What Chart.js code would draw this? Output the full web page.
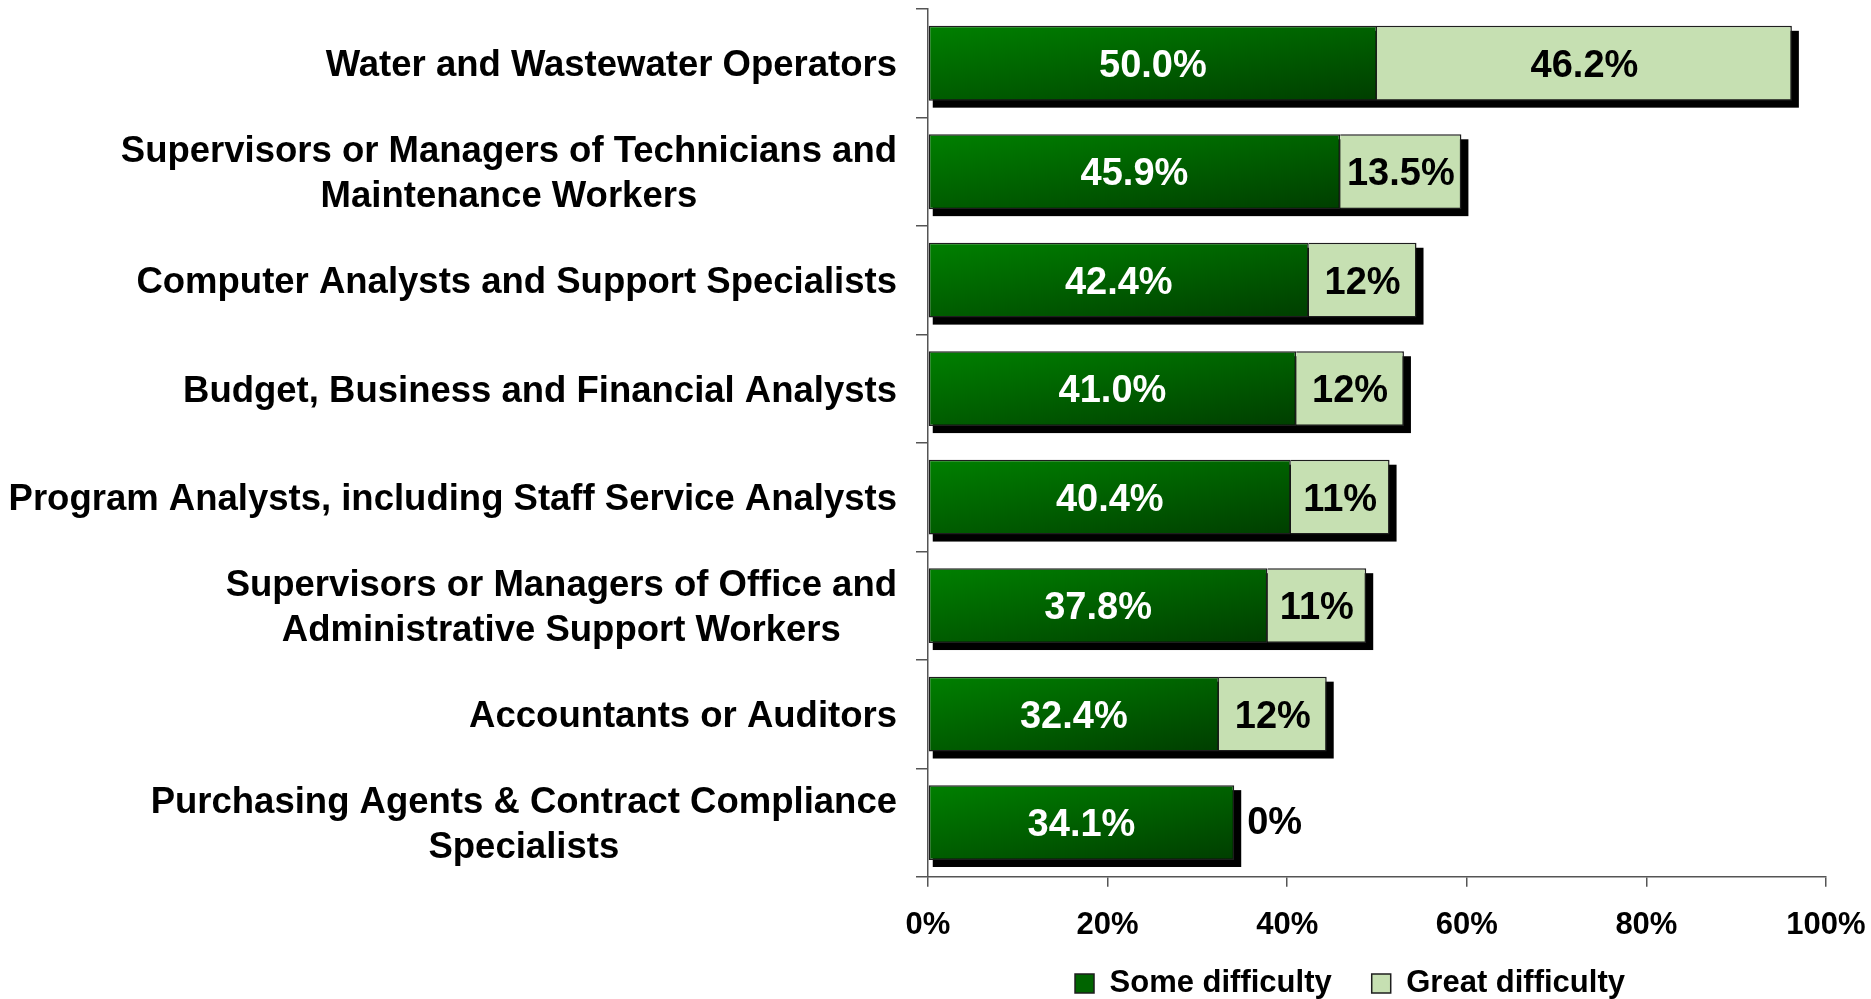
<!DOCTYPE html>
<html>
<head>
<meta charset="utf-8">
<script src="https://cdn.jsdelivr.net/npm/chart.js@4/dist/chart.umd.min.js"></script>
<style>
  html, body { margin: 0; padding: 0; background: #fff; }
  #wrap { width: 1871px; height: 999px; }
</style>
</head>
<body>
<div id="wrap"><canvas id="myChart"></canvas></div>
<script>
// data block
const categories = [
    ['Water and Wastewater Operators'],
    ['Supervisors or Managers of Technicians and', 'Maintenance Workers'],
    ['Computer Analysts and Support Specialists'],
    ['Budget, Business and Financial Analysts'],
    ['Program Analysts, including Staff Service Analysts'],
    ['Supervisors or Managers of Office and', 'Administrative Support Workers'],
    ['Accountants or Auditors'],
    ['Purchasing Agents & Contract Compliance', 'Specialists']
];
const someDifficulty = [50.0, 45.9, 42.4, 41.0, 40.4, 37.8, 32.4, 34.1];
const greatDifficulty = [46.2, 13.5, 12, 12, 11, 11, 12, 0];
const someLabels = ['50.0%', '45.9%', '42.4%', '41.0%', '40.4%', '37.8%', '32.4%', '34.1%'];
const greatLabels = ['46.2%', '13.5%', '12%', '12%', '11%', '11%', '12%', '0%'];
const xTicks = [0, 20, 40, 60, 80, 100];

const FONT = '"Liberation Sans", Arial, sans-serif';
const BAR_PCT = 0.69;

Chart.defaults.font.family = FONT;
Chart.defaults.color = '#000';

// dark green bars: gradient from bright top-left to dark bottom-right,
// about half across the length and half down the height
function greenGradient(c) {
    const chart = c.chart;
    const {x, y} = chart.scales;
    if (c.type !== 'data' || !x || !y || !chart.chartArea) return '#006400';
    const x0 = x.getPixelForValue(0);
    const L = Math.max(x.getPixelForValue(c.raw) - x0, 1);
    const h = (y.height / categories.length) * BAR_PCT;
    const top = y.getPixelForValue(c.dataIndex) - h / 2;
    const S = 1 / (0.2025 / (L * L) + 0.3025 / (h * h));
    const g = chart.ctx.createLinearGradient(x0, top, x0 + 0.45 * S / L, top + 0.55 * S / h);
    g.addColorStop(0, '#008000');
    g.addColorStop(1, '#003e00');
    return g;
}

// shadow behind each stacked bar
const barShadow = {
    id: 'barShadow',
    beforeDatasetsDraw(chart) {
        const ctx = chart.ctx;
        const m0 = chart.getDatasetMeta(0);
        const m1 = chart.getDatasetMeta(1);
        ctx.save();
        ctx.fillStyle = '#000';
        m0.data.forEach((b, i) => {
            const e = m1.data[i];
            const left = Math.min(b.base, e.base);
            const right = Math.max(b.x, e.x);
            const top = b.y - b.height / 2;
            ctx.fillRect(left + 4, top + 5, right - left + 3, b.height + 2);
        });
        ctx.restore();
    }
};

// value labels inside the bars
const valueLabels = {
    id: 'valueLabels',
    afterDatasetsDraw(chart) {
        const ctx = chart.ctx;
        ctx.save();
        ctx.font = 'bold 38px ' + FONT;
        ctx.textBaseline = 'middle';
        [someLabels, greatLabels].forEach((texts, d) => {
            const meta = chart.getDatasetMeta(d);
            meta.data.forEach((bar, i) => {
                const v = chart.data.datasets[d].data[i];
                if (v === 0) {
                    ctx.fillStyle = '#000';
                    ctx.textAlign = 'left';
                    ctx.fillText(texts[i], bar.x + 13, bar.y + 1);
                } else {
                    ctx.fillStyle = d === 0 ? '#fff' : '#000';
                    ctx.textAlign = 'center';
                    ctx.fillText(texts[i], (bar.x + bar.base) / 2, bar.y + 3);
                }
            });
        });
        ctx.restore();
    }
};

// category labels: block right-aligned, lines centred in the block
const categoryLabels = {
    id: 'categoryLabels',
    afterDraw(chart) {
        const ctx = chart.ctx;
        const y = chart.scales.y;
        const right = y.right - 12 - 19;
        ctx.save();
        ctx.font = 'bold 36.5px ' + FONT;
        ctx.fillStyle = '#000';
        ctx.textAlign = 'center';
        ctx.textBaseline = 'middle';
        categories.forEach((lines, i) => {
            const w = Math.max(...lines.map(l => ctx.measureText(l).width));
            const cx = right - w / 2;
            const cy = y.getPixelForValue(i) + 3;
            lines.forEach((l, k) => {
                ctx.fillText(l, cx, cy + (k - (lines.length - 1) / 2) * 45);
            });
        });
        ctx.restore();
    }
};

// the wide legend padding is wanted between the items only:
// pull the legend back up and a bit to the left
const legendShift = {
    id: 'legendShift',
    afterLayout(chart) {
        const lg = chart.legend;
        if (!lg) return;
        lg.left -= 54;
        lg.top -= 36;
        lg.bottom -= 36;
    }
};

const data = {
    labels: categories,
    datasets: [{
        label: 'Some difficulty',
        data: someDifficulty,
        backgroundColor: greenGradient,
        borderColor: '#1e1e1e',
        borderWidth: 1.5,
        borderSkipped: false
    }, {
        label: 'Great difficulty',
        data: greatDifficulty,
        backgroundColor: '#c6e0b2',
        borderColor: '#1e1e1e',
        borderWidth: 1.5,
        borderSkipped: 'start'
    }]
};

const config = {
    type: 'bar',
    data: data,
    options: {
        indexAxis: 'y',
        responsive: true,
        maintainAspectRatio: false,
        animation: false,
        barPercentage: BAR_PCT,
        categoryPercentage: 1,
        layout: {
            padding: {left: 0, right: 45, top: 9, bottom: -46}
        },
        scales: {
            x: {
                stacked: true,
                min: 0,
                max: 100,
                afterBuildTicks: (s) => { s.ticks = xTicks.map(v => ({value: v})); },
                afterFit: (s) => { s.paddingRight = 45; },
                ticks: {
                    callback: (v) => v + '%',
                    font: {size: 31, weight: 'bold'},
                    color: '#000',
                    padding: 20,
                    maxRotation: 0
                },
                grid: {
                    drawOnChartArea: false,
                    tickLength: 10,
                    color: '#555',
                    lineWidth: 1.5
                },
                border: {color: '#555', width: 1.5}
            },
            y: {
                stacked: true,
                afterFit: (s) => { s.width = 928; },
                ticks: {display: false},
                grid: {
                    offset: true,
                    drawOnChartArea: false,
                    tickLength: 12,
                    color: '#555',
                    lineWidth: 1.5
                },
                border: {color: '#555', width: 1.5}
            }
        },
        plugins: {
            tooltip: {enabled: false},
            legend: {
                position: 'bottom',
                fullSize: false,
                labels: {
                    font: {size: 31, weight: 'bold'},
                    color: '#000',
                    boxWidth: 19,
                    boxHeight: 19,
                    padding: 40,
                    generateLabels: () => [
                        {text: 'Some difficulty', fillStyle: '#006400', strokeStyle: '#1e1e1e', lineWidth: 1.5, datasetIndex: 0, hidden: false},
                        {text: 'Great difficulty', fillStyle: '#c6e0b2', strokeStyle: '#1e1e1e', lineWidth: 1.5, datasetIndex: 1, hidden: false}
                    ]
                }
            }
        }
    },
    plugins: [barShadow, valueLabels, categoryLabels, legendShift]
};

const myChart = new Chart(document.getElementById('myChart'), config);
</script>
</body>
</html>
